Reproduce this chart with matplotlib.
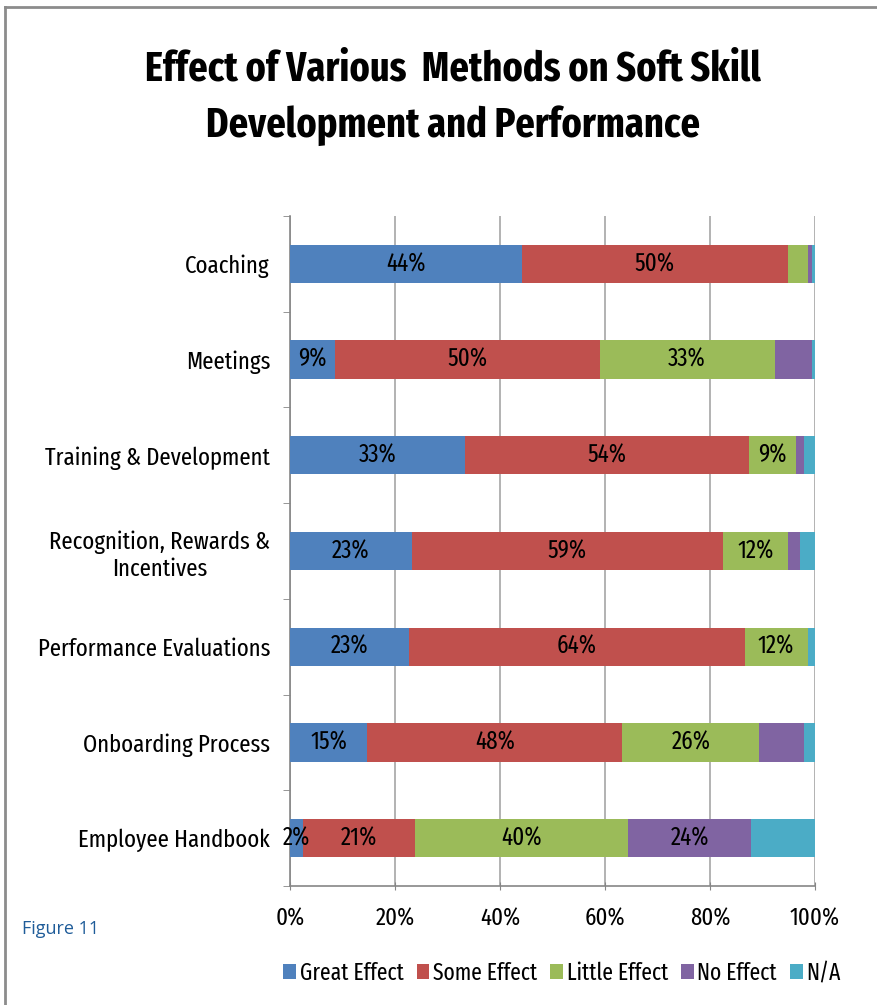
import matplotlib
matplotlib.use("Agg")
import matplotlib.pyplot as plt
from matplotlib.lines import Line2D
from matplotlib import font_manager
from matplotlib.font_manager import FontProperties
import numpy as np

categories = ["Coaching", "Meetings", "Training & Development",
              "Recognition, Rewards &\nIncentives", "Performance Evaluations",
              "Onboarding Process", "Employee Handbook"]
series_names = ["Great Effect", "Some Effect", "Little Effect", "No Effect", "N/A"]
great_effect = [44.2, 8.6, 33.4, 23.2, 22.7, 14.7, 2.5]
some_effect = [50.6, 50.4, 54.0, 59.3, 63.9, 48.6, 21.3]
little_effect = [3.9, 33.3, 8.9, 12.3, 12.0, 26.1, 40.5]
no_effect = [0.8, 7.1, 1.6, 2.3, 0.0, 8.5, 23.6]
na_values = [0.5, 0.6, 2.1, 2.9, 1.4, 2.1, 12.1]
great_labels = ["44%", "9%", "33%", "23%", "23%", "15%", "2%"]
some_labels = ["50%", "50%", "54%", "59%", "64%", "48%", "21%"]
little_labels = ["", "33%", "9%", "12%", "12%", "26%", "40%"]
no_labels = ["", "", "", "", "", "", "24%"]
na_labels = ["", "", "", "", "", "", ""]
x_ticks = [0, 20, 40, 60, 80, 100]
x_tick_labels = ["0%", "20%", "40%", "60%", "80%", "100%"]
title = "Effect of Various  Methods on Soft Skill\nDevelopment and Performance"

colors = ["#4F81BD", "#C0504D", "#9BBB59", "#8064A2", "#4BACC6"]


def pick(bold):
    best = None
    for f in font_manager.fontManager.ttflist:
        fn = f.fname.lower().replace("-", "").replace("_", "")
        nm = f.name.lower()
        if "mono" in fn or "serif" in nm or "italic" in fn or "oblique" in fn:
            continue
        if "condensed" not in fn and "narrow" not in fn and "condensed" not in nm:
            continue
        isbold = ("bold" in fn and "semibold" not in fn and "extrabold" not in fn) or f.weight in (700, "bold")
        if "semibold" in fn or "extrabold" in fn or "black" in fn or "light" in fn or "thin" in fn or "medium" in fn:
            continue
        if bold != isbold:
            continue
        rank = 0 if "extracondensed" in fn else 1 if "semicondensed" not in fn else 2
        fam = 0 if "noto" in fn else 1 if "opensans" in fn else 2
        key = (rank, fam, fn)
        if best is None or key < best[0]:
            best = (key, f.fname)
    return best[1] if best else None


reg_file = pick(False)
bold_file = pick(True)
FP = FontProperties(fname=reg_file) if reg_file else FontProperties(family="Liberation Sans")
FPB = FontProperties(fname=bold_file) if bold_file else FontProperties(family="Liberation Sans", weight="bold")

fig = plt.figure(figsize=(8.77, 10.05), dpi=100)
W, H = 877, 1005
renderer = fig.canvas.get_renderer()


def fit(text, target_px, fp):
    t = fig.text(0, 0, text, fontproperties=fp.copy())
    t.set_fontsize(20)
    w = t.get_window_extent(renderer).width
    t.remove()
    return 20 * target_px / w


fs_cat = fit("Training & Development", 226, FP)
fs_lab = fit("54%", 39, FP)
fs_tick = fit("100%", 50, FP)
fs_leg = fit("Great Effect", 104, FP)
fs_title = fit("Effect of Various  Methods on Soft Skill", 617, FPB)


def fpsize(fp, s):
    p = fp.copy()
    p.set_size(s)
    return p


fig.add_artist(Line2D([5 / W, 5 / W], [0, 1 - 7 / H], transform=fig.transFigure,
                      color="#8C8C8C", lw=2))
fig.add_artist(Line2D([5 / W, 1], [1 - 7 / H, 1 - 7 / H], transform=fig.transFigure,
                      color="#8C8C8C", lw=2))

ax = fig.add_axes([290 / W, 1 - 886 / H, (815 - 290) / W, (886 - 216) / H])

y = np.arange(len(categories))
all_series = [great_effect, some_effect, little_effect, no_effect, na_values]
all_labels = [great_labels, some_labels, little_labels, no_labels, na_labels]
left = np.zeros(len(categories))
for name, vals, labs, col in zip(series_names, all_series, all_labels, colors):
    vals = np.array(vals)
    bars = ax.barh(y, vals, left=left, height=0.40, color=col, label=name,
                   edgecolor="none", zorder=3)
    ax.bar_label(bars, labels=labs, label_type="center",
                 fontproperties=fpsize(FP, fs_lab), color="black", zorder=4)
    left = left + vals

ax.set_xlim(0, 100)
ax.set_ylim(len(categories) - 0.5, -0.5)
ax.set_xticks(x_ticks)
ax.set_xticklabels(x_tick_labels, fontproperties=fpsize(FP, fs_tick))
ax.set_yticks(y)
ax.set_yticklabels(categories, fontproperties=fpsize(FP, fs_cat), multialignment="center")
ax.tick_params(axis="y", length=0, pad=14.4)
ax.set_yticks(np.arange(-0.5, len(categories), 1.0), minor=True)
ax.tick_params(axis="y", which="minor", length=5, color="#868686", direction="out")
ax.tick_params(axis="x", length=6, color="#868686", direction="inout", pad=12)
ax.grid(axis="x", color="#A6A6A6", lw=1.2, zorder=0)
for s in ["top", "right"]:
    ax.spines[s].set_visible(False)
for s in ["left", "bottom"]:
    ax.spines[s].set_color("#868686")
    ax.spines[s].set_linewidth(1.2)

fig.text(453 / W, 1 - 97 / H, title, ha="center", va="center",
         fontproperties=fpsize(FPB, fs_title), linespacing=1.5)

fig.text(22 / W, 1 - 929 / H, "Figure 11", fontsize=13, color="#1F5C99",
         ha="left", va="center", family=["Open Sans", "DejaVu Sans"])

fig.legend(loc="center", bbox_to_anchor=(562 / W, 1 - 973 / H), ncol=5,
           frameon=False, prop=fpsize(FP, fs_leg), handlelength=0.55, handleheight=0.65,
           handletextpad=0.15, columnspacing=0.55, borderpad=0.2)

fig.savefig("out.png", dpi=100)
